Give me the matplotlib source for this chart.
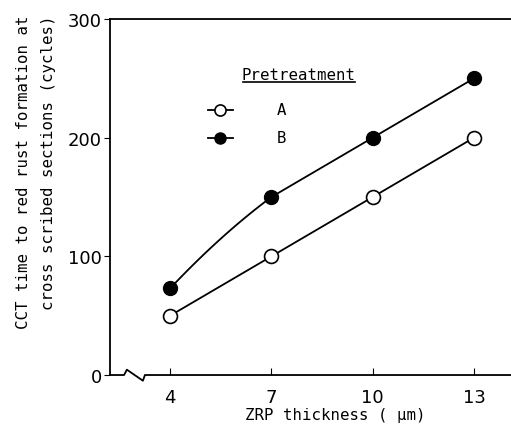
import numpy as np
from matplotlib import pyplot as plt

thickness = [4, 7, 10, 13]
cct_a = [50, 100, 150, 200]
cct_b = [73, 150, 200, 250]
x_ticks = [4, 7, 10, 13]
y_ticks = [0, 100, 200, 300]

plt.rcParams["font.family"] = "DejaVu Sans Mono"

fig = plt.figure(figsize=(5.11, 4.35), dpi=100)
ax = fig.add_axes([0.2153, 0.1356, 0.785, 0.8184])
ax.set_xlim(2.22, 14.1)
ax.set_ylim(0, 300)

# A: straight segments
ax.plot(thickness, cct_a, color="black", lw=1.3, marker="o", ms=10,
        mfc="white", mec="black", mew=1.2, zorder=3)

# B: curved first segment, straight afterwards
c = np.polyfit(thickness[:3], cct_b[:3], 2)
xs = np.linspace(thickness[0], thickness[1], 50)
ax.plot(xs, np.polyval(c, xs), color="black", lw=1.3)
ax.plot(thickness[1:], cct_b[1:], color="black", lw=1.3)
ax.plot(thickness, cct_b, ls="None", marker="o", ms=10, mfc="black",
        mec="black", zorder=3)

ax.spines[["right", "bottom"]].set_visible(False)
ax.spines["top"].set_linewidth(1.3)
ax.spines["left"].set_linewidth(1.3)

# broken x axis
tr = ax.transAxes
ax.plot([0, 0.035, 0.042, 0.082, 0.087, 1], [0, 0, 0.015, -0.016, 0, 0],
        color="black", lw=1.3, transform=tr, clip_on=False)

ax.set_xticks(x_ticks)
ax.set_yticks(y_ticks)
ax.tick_params(axis="x", direction="in", length=5, labelsize=13, pad=9)
ax.tick_params(axis="y", direction="out", length=4, labelsize=13, pad=2)
for lab in ax.get_xticklabels() + ax.get_yticklabels():
    lab.set_fontfamily("DejaVu Sans")
ax.set_xlabel("ZRP thickness ( μm)", fontsize=11.3, labelpad=3)
ax.xaxis.set_label_coords(0.561, -0.09)
fig.text(0.0704, 0.9655,
         "CCT time to red rust formation at\ncross scribed sections (cycles)",
         rotation=90, ha="center", va="top", multialignment="right",
         fontsize=11.3, linespacing=1.85)

# legend
ax.text(0.471, 0.8455, "Pretreatment", transform=tr, fontsize=11.3,
        ha="center", va="center")
ax.plot([0.332, 0.611], [0.822, 0.822], color="black", lw=1.2, transform=tr)
ax.plot([0.244, 0.307], [0.745, 0.745], color="black", lw=1.3, transform=tr)
ax.plot([0.275], [0.745], transform=tr, marker="o", ms=8, mfc="white",
        mec="black", mew=1.2)
ax.plot([0.244, 0.307], [0.666, 0.666], color="black", lw=1.3, transform=tr)
ax.plot([0.275], [0.666], transform=tr, marker="o", ms=8, mfc="black",
        mec="black")
ax.text(0.428, 0.745, "A", transform=tr, fontsize=11.3, ha="center", va="center")
ax.text(0.428, 0.666, "B", transform=tr, fontsize=11.3, ha="center", va="center")

fig.savefig("out.png", dpi=100)
